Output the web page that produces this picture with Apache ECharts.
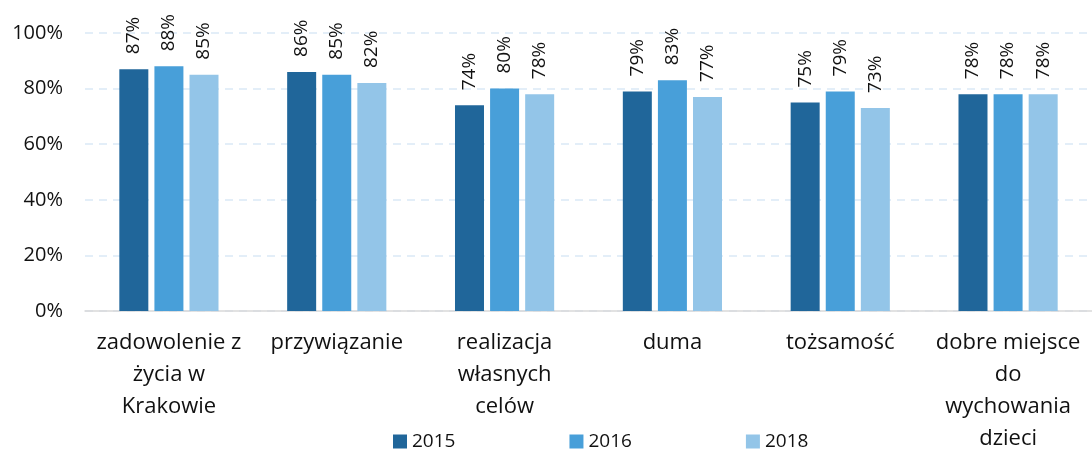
<!DOCTYPE html>
<html><head><meta charset="utf-8">
<script src="https://cdn.jsdelivr.net/npm/echarts@6/dist/echarts.min.js"></script>
<style>html,body{margin:0;padding:0;background:#fff}#c{width:1092px;height:450px}</style>
</head><body><div id="c"></div>
<script>
const categories = ['zadowolenie z\nżycia w\nKrakowie', 'przywiązanie', 'realizacja\nwłasnych\ncelów', 'duma', 'tożsamość', 'dobre miejsce\ndo\nwychowania\ndzieci'];
const seriesNames = ['2015', '2016', '2018'];
const v2015 = [87, 86, 74, 79, 75, 78];
const v2016 = [88, 85, 80, 83, 79, 78];
const v2018 = [85, 82, 78, 77, 73, 78];
const yTicks = [0, 20, 40, 60, 80, 100];
const colors = ['#20669A', '#489FD9', '#93C5E8'];
const FONT = 'Open Sans';

const chart = echarts.init(document.getElementById('c'));
const mk = (name, data, color) => ({
  name, type: 'bar', data,
  itemStyle: { color },
  barWidth: 29, barGap: '21%',
  label: {
    show: true, position: 'top', rotate: 90, align: 'left', verticalAlign: 'middle',
    distance: 15, formatter: '{c}%', fontFamily: FONT, fontSize: 19, color: '#111'
  }
});
chart.setOption({
  animation: false,
  textStyle: { fontFamily: FONT },
  grid: { left: 85, right: 0, top: 33, bottom: 139, outerBoundsMode: 'none', containLabel: false },
  legend: {
    data: seriesNames, left: 388, top: 430, padding: [2, 5, 2, 5],
    itemWidth: 14, itemHeight: 14, itemGap: 114, icon: 'rect',
    textStyle: { fontFamily: FONT, fontSize: 19, color: '#111' }
  },
  xAxis: {
    type: 'category', data: categories,
    axisTick: { show: false },
    axisLine: { lineStyle: { color: '#D9D9D9', width: 1.5 } },
    axisLabel: { interval: 0, fontFamily: FONT, fontSize: 22, color: '#111', lineHeight: 32, margin: 16 }
  },
  yAxis: {
    type: 'value', min: yTicks[0], max: yTicks[yTicks.length - 1], interval: 20,
    axisLabel: { formatter: '{value}%', fontFamily: FONT, fontSize: 20, color: '#111', margin: 22 },
    axisLine: { show: false }, axisTick: { show: false },
    splitLine: { lineStyle: { color: '#DAE9F6', type: [8, 6], width: 1.5 } }
  },
  series: [mk(seriesNames[0], v2015, colors[0]), mk(seriesNames[1], v2016, colors[1]), mk(seriesNames[2], v2018, colors[2])]
});
</script></body></html>
